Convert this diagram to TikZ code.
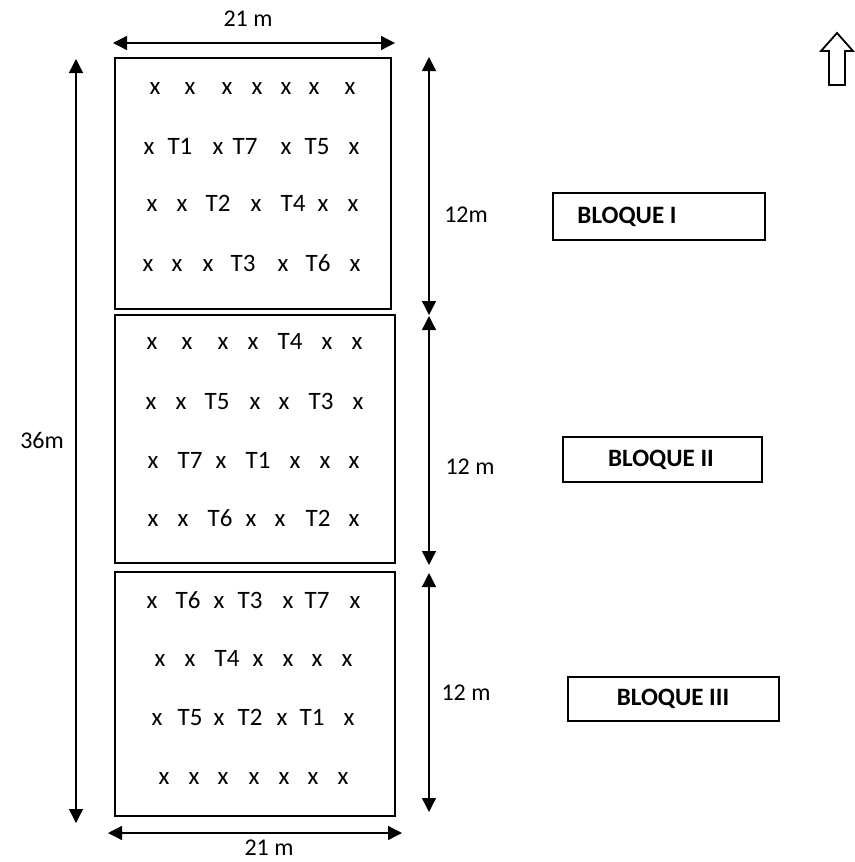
\documentclass[tikz,border=0pt]{standalone}
\usepackage{fontspec}
\setmainfont{Carlito}
\usetikzlibrary{arrows.meta}
\newcommand\plotrow[3]{%
  \foreach \x/\t [count=\i] in {#3} \node[tok] (#1c\i) at (\x,{#2+6}) {\t};}
\begin{document}
\begin{tikzpicture}[x=1pt,y=-1pt,
  plotbox/.style={draw, line width=2.4pt, inner sep=0pt, outer sep=0pt},
  dimline/.style={line width=1.3pt, {Triangle[length=14pt,width=14pt]}-{Triangle[length=14pt,width=14pt]}},
  lbl/.style={font=\fontsize{24}{26}\selectfont, inner sep=0pt},
  tok/.style={font=\fontsize{25}{27}\selectfont, inner sep=0pt, anchor=base},
  blqbox/.style={draw, line width=2pt, inner sep=0pt},
  blqtext/.style={font=\bfseries\fontsize{25}{27}\selectfont, inner sep=0pt}
]
\useasboundingbox (0,0) rectangle (854,862);

% plots
\node[plotbox, minimum width=276pt, minimum height=251pt] (b1) at (253,183.5) {};
\node[plotbox, minimum width=280pt, minimum height=248pt] (b2) at (255,439) {};
\node[plotbox, minimum width=280pt, minimum height=244pt] (b3) at (255,694) {};

% contents
\plotrow{b1r1}{88}{155/x,190/x,227/x,257/x,286/x,314/x,350/x}
\plotrow{b1r2}{148}{149/x,180/T1,218/x,245/T7,286/x,317/T5,354/x}
\plotrow{b1r3}{205}{152/x,182/x,218/T2,256/x,293/T4,323/x,353/x}
\plotrow{b1r4}{265}{148/x,177/x,208/x,243/T3,283/x,318/T6,355/x}

\plotrow{b2r1}{343}{152/x,187/x,223/x,253/x,290/T4,327/x,357/x}
\plotrow{b2r2}{403}{151/x,181/x,217/T5,255/x,284/x,321/T3,358/x}
\plotrow{b2r3}{462}{153/x,190/T7,221/x,258/T1,295/x,325/x,354/x}
\plotrow{b2r4}{520}{153/x,183/x,220/T6,251/x,280/x,318/T2,354/x}

\plotrow{b3r1}{602}{152/x,188/T6,219/x,250/T3,288/x,317/T7,355/x}
\plotrow{b3r2}{660}{160/x,190/x,227/T4,258/x,288/x,317/x,347/x}
\plotrow{b3r3}{719}{157/x,190/T5,219/x,250/T2,282/x,312/T1,349/x}
\plotrow{b3r4}{778}{164/x,194/x,223/x,254/x,284/x,313/x,343/x}

% dimension arrows
\coordinate (tl) at (113,43);  \coordinate (tr) at (395,43);
\coordinate (bl) at (108,833); \coordinate (br) at (402,833);
\coordinate (lt) at (76,59);   \coordinate (lb) at (76,823);
\coordinate (r1t) at (429,57);  \coordinate (r1b) at (429,315);
\coordinate (r2t) at (429,316); \coordinate (r2b) at (429,565);
\coordinate (r3t) at (429,573); \coordinate (r3b) at (429,812);
\draw[dimline] (tl) -- (tr);
\draw[dimline] (bl) -- (br);
\draw[dimline] (lt) -- (lb);
\draw[dimline] (r1t) -- (r1b);
\draw[dimline] (r2t) -- (r2b);
\draw[dimline] (r3t) -- (r3b);

% dimension labels
\node[lbl] (w1) at (248,19) {21 m};
\node[lbl] (w2) at (269,848) {21 m};
\node[lbl] (h0) at (42,440) {36m};
\node[lbl] (h1) at (466,215) {12m};
\node[lbl] (h2) at (470,467) {12 m};
\node[lbl] (h3) at (466,693) {12 m};

% block labels
\node[blqbox, minimum width=212pt, minimum height=47pt] (q1) at (659,216.5) {};
\node[blqtext] (q1t) at (627,217) {BLOQUE I};
\node[blqbox, minimum width=199pt, minimum height=45pt] (q2) at (662.5,459.5) {};
\node[blqtext] (q2t) at (661,460) {BLOQUE II};
\node[blqbox, minimum width=211pt, minimum height=44pt] (q3) at (673.5,699) {};
\node[blqtext] (q3t) at (673,699) {BLOQUE III};

% north arrow
\draw[line width=1.8pt, line join=miter] (829,85) -- (829,51) -- (821,51) -- (837,33) -- (853,51) -- (845,51) -- (845,85) -- cycle;
\end{tikzpicture}
\end{document}
